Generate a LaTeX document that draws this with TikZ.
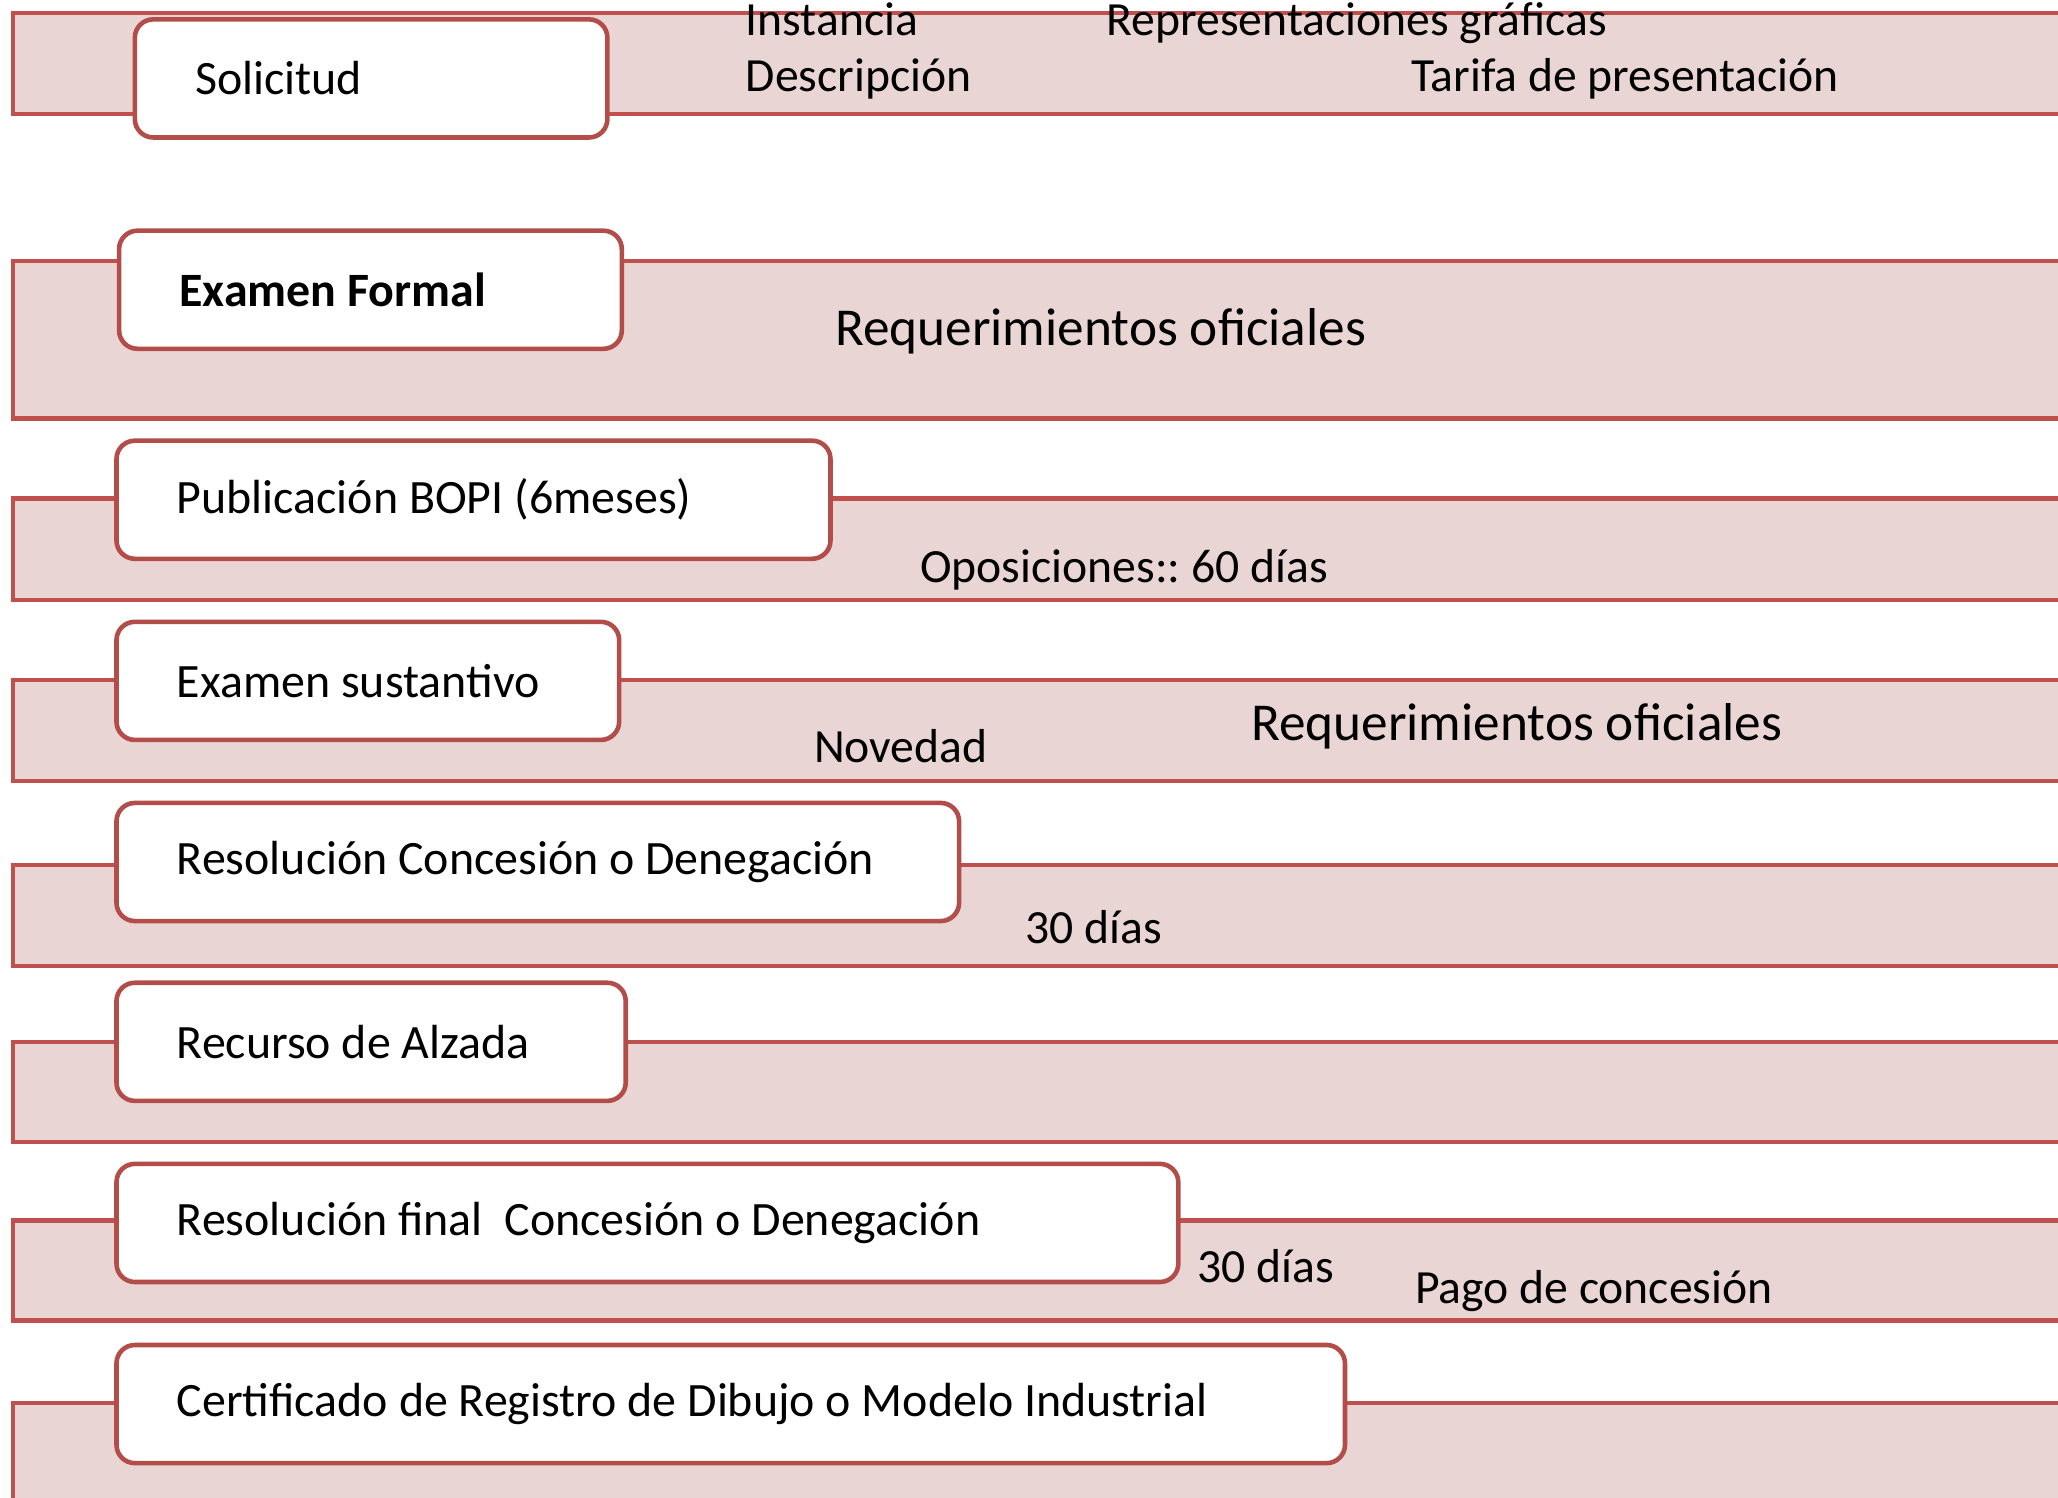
\documentclass[tikz,border=0pt]{standalone}
\usepackage{fontspec}
\setmainfont{Carlito}
\frenchspacing
\definecolor{bandred}{HTML}{C0504D}
\definecolor{bandfill}{HTML}{EAD5D5}
\definecolor{boxred}{HTML}{B34D4A}
\newcommand{\boxtext}[2]{\makebox[#1][l]{#2}}
\begin{document}
\begin{tikzpicture}[x=1pt,y=-1pt,
 band/.style={draw=bandred, fill=bandfill, line width=3.5pt},
 stepbox/.style={draw=boxred, fill=white, line width=3.5pt, rounded corners=14pt, anchor=north west, minimum height=90pt, inner xsep=46pt, inner ysep=0pt, font=\fontsize{36.5}{40}\selectfont\frenchspacing},
 lbl/.style={anchor=base west, inner sep=0pt, font=\fontsize{36.3}{40}\selectfont\frenchspacing},
 biglbl/.style={anchor=base west, inner sep=0pt, font=\fontsize{40.6}{45}\selectfont}]
\useasboundingbox (0,0) rectangle (1568,1141);
\clip (0,0) rectangle (1568,1141);
\fill[white] (0,0) rectangle (1568,1141);
% bands
\draw[band] (10,10) rectangle (1600,87);
\draw[band] (10,199) rectangle (1600,319);
\draw[band] (10,380) rectangle (1600,457);
\draw[band] (10,518) rectangle (1600,595);
\draw[band] (10,659) rectangle (1600,736);
\draw[band] (10,794) rectangle (1600,870);
\draw[band] (10,930) rectangle (1600,1006);
\draw[band] (10,1069) rectangle (1600,1200);
% boxes
\node[stepbox] (b1) at (101,13) {\boxtext{268pt}{Solicitud}};
\node[stepbox] (b2) at (89,174) {\boxtext{291pt}{\bfseries Examen Formal}};
\node[stepbox] (b3) at (87,334) {\boxtext{452pt}{Publicación BOPI (6meses)}};
\node[stepbox] (b4) at (87,472) {\boxtext{291pt}{Examen sustantivo}};
\node[stepbox] (b5) at (87,610) {\boxtext{550pt}{Resolución Concesión o Denegación}};
\node[stepbox] (b6) at (87,747) {\boxtext{296pt}{Recurso de Alzada}};
\node[stepbox] (b7) at (87,885) {\boxtext{717pt}{Resolución final\ \ Concesión o Denegación}};
\node[stepbox] (b8) at (87,1023) {\boxtext{844pt}{Certificado de Registro de Dibujo o Modelo Industrial}};
% labels
\node[lbl] (l1) at (568,27) {Instancia};
\node[lbl] (l2) at (843,27) {Representaciones gráficas};
\node[lbl] (l3) at (568,70) {Descripción};
\node[lbl] (l4) at (1075,70) {Tarifa de presentación};
\node[biglbl] (l5) at (636,263) {Requerimientos oficiales};
\node[lbl] (l6) at (701,444) {Oposiciones:: 60 días};
\node[lbl] (l7) at (620,581) {Novedad};
\node[biglbl] (l8) at (953,564) {Requerimientos oficiales};
\node[lbl] (l9) at (781,719) {30 días};
\node[lbl] (l10) at (912,977) {30 días};
\node[lbl] (l11) at (1078,993) {Pago de concesión};
\end{tikzpicture}
\end{document}
